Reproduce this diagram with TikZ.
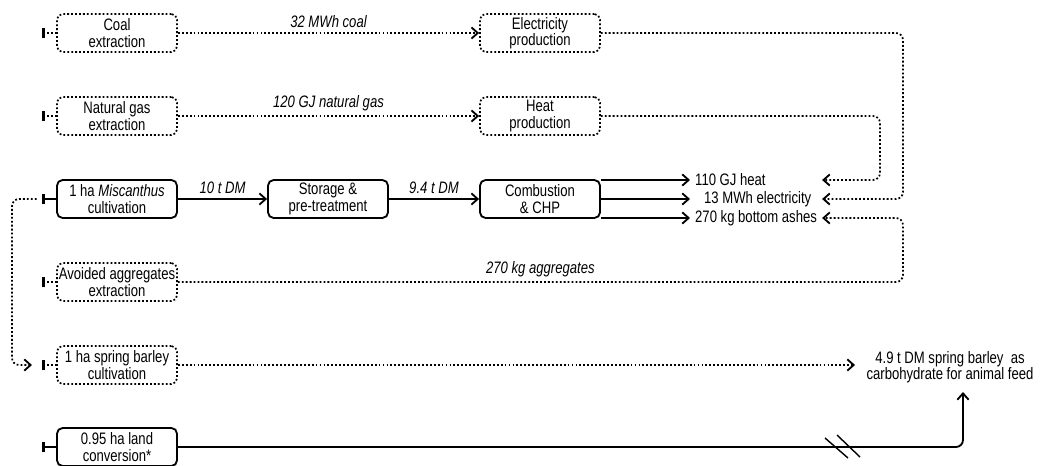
\documentclass[tikz,border=0pt]{standalone}
\usepackage{fontspec}
\setmainfont{Liberation Sans}[FakeStretch=0.79]
\usepackage{tikz}
\usetikzlibrary{positioning,arrows.meta}

\tikzset{
  dots/.style={line width=1.2pt,dash pattern=on 1.3pt off 1.5pt},
  heavy/.style={line width=1.3pt},
  proc/.style={draw,heavy,rounded corners=4pt,minimum width=3cm,minimum height=0.95cm,
    align=center,inner sep=1pt,font=\fontsize{11.8}{11.5}\selectfont},
  avoided/.style={proc,dots},
  flow/.style={heavy,-{Straight Barb[length=4.5pt,width=8pt,line width=1.3pt]}},
  flowd/.style={flow,dots},
  src/.style={{Bar[width=7.5pt,line width=1.4pt,sep=2.6pt]Bar[width=7.5pt,line width=1.2pt]}-},
  lbl/.style={above,font=\fontsize{11.8}{11.5}\selectfont\itshape},
  prod/.style={inner xsep=3.5pt,inner ysep=1pt,font=\fontsize{11.8}{11.5}\selectfont},
}

\begin{document}
\begin{tikzpicture}[x=0.025cm,y=-0.025cm]
  \useasboundingbox (0,0) rectangle (1040,466);
  % left column
  \node[avoided] (coal)   at (117,33)  {Coal\\extraction};
  \node[avoided] (gas)    at (117,116) {Natural gas\\extraction};
  \node[proc]    (misc)   at (117,199) {1 ha \textit{Miscanthus}\\cultivation};
  \node[avoided] (aggr)   at (117,282) {Avoided aggregates\\extraction};
  \node[avoided] (barley) at (117,365) {1 ha spring barley\\cultivation};
  \node[proc]    (land)   at (117,447) {0.95 ha land\\conversion*};
  \foreach \n/\y in {coal/33,gas/116,misc/199,aggr/282,barley/365,land/447}
    \coordinate (m-\n) at (38,\y);

  % processes
  \node[avoided] (elprod) at (540,33)  {Electricity\\production};
  \node[avoided] (htprod) at (540,116) {Heat\\production};
  \node[proc]    (store)  at (328,199) {Storage \&\\pre-treatment};
  \node[proc]    (chp)    at (540,199) {Combustion\\\& CHP};

  % products
  \node[prod,anchor=west] (heat) at (690,180) {110 GJ heat};
  \node[prod,anchor=west] (elec) at (699,199) {13 MWh electricity};
  \node[prod,anchor=west] (ash)  at (690,218) {270 kg bottom ashes};
  \node[prod,align=center,inner xsep=8pt,inner ysep=3pt] (feed) at (950,367)
    {4.9 t DM spring barley~ as\\carbohydrate for animal feed};
  \coordinate (up) at (963,392);
  \coordinate (loop) at (32,365);

  % reference flows
  \foreach \n in {coal,gas,aggr,barley}
    \draw[dots,src] (m-\n) -- (\n);
  \foreach \n in {misc,land}
    \draw[heavy,src] (m-\n) -- (\n);

  \draw[flowd] (coal) -- node[lbl]{32 MWh coal} (elprod);
  \draw[flowd] (gas) -- node[lbl]{120 GJ natural gas} (htprod);
  \draw[flow] (misc) -- node[lbl]{10 t DM} (store);
  \draw[flow] (store) -- node[lbl]{9.4 t DM} (chp);
  \draw[flow] (heat.west -| chp.east) -- (heat.west);
  \draw[flow] (chp.east) -- (elec.west -| heat.west);
  \draw[flow] (ash.west -| chp.east) -- (ash.west);

  % substituted products
  \draw[flowd,rounded corners=5pt] (elprod) -- (903,33) -- (903,199) -- (ash.east |- elec);
  \draw[flowd,rounded corners=5pt] (htprod) -- (880,116) -- (880,180) -- (ash.east |- heat);
  \draw[flowd,rounded corners=5pt] (aggr) -- node[lbl]{270 kg aggregates} (903,282)
    -- (903,218) -- (ash.east);
  \draw[flowd,rounded corners=5pt] ([xshift=-1pt]m-misc) -- (12,199) -- (12,365) -- (loop);
  \draw[flowd] (barley) -- (barley -| feed.west);
  \draw[flow,rounded corners=5pt] (land) -| (up);
  \draw[line width=1pt] (825,438) -- (848,458) (837,435) -- (860,457);
\end{tikzpicture}
\end{document}
